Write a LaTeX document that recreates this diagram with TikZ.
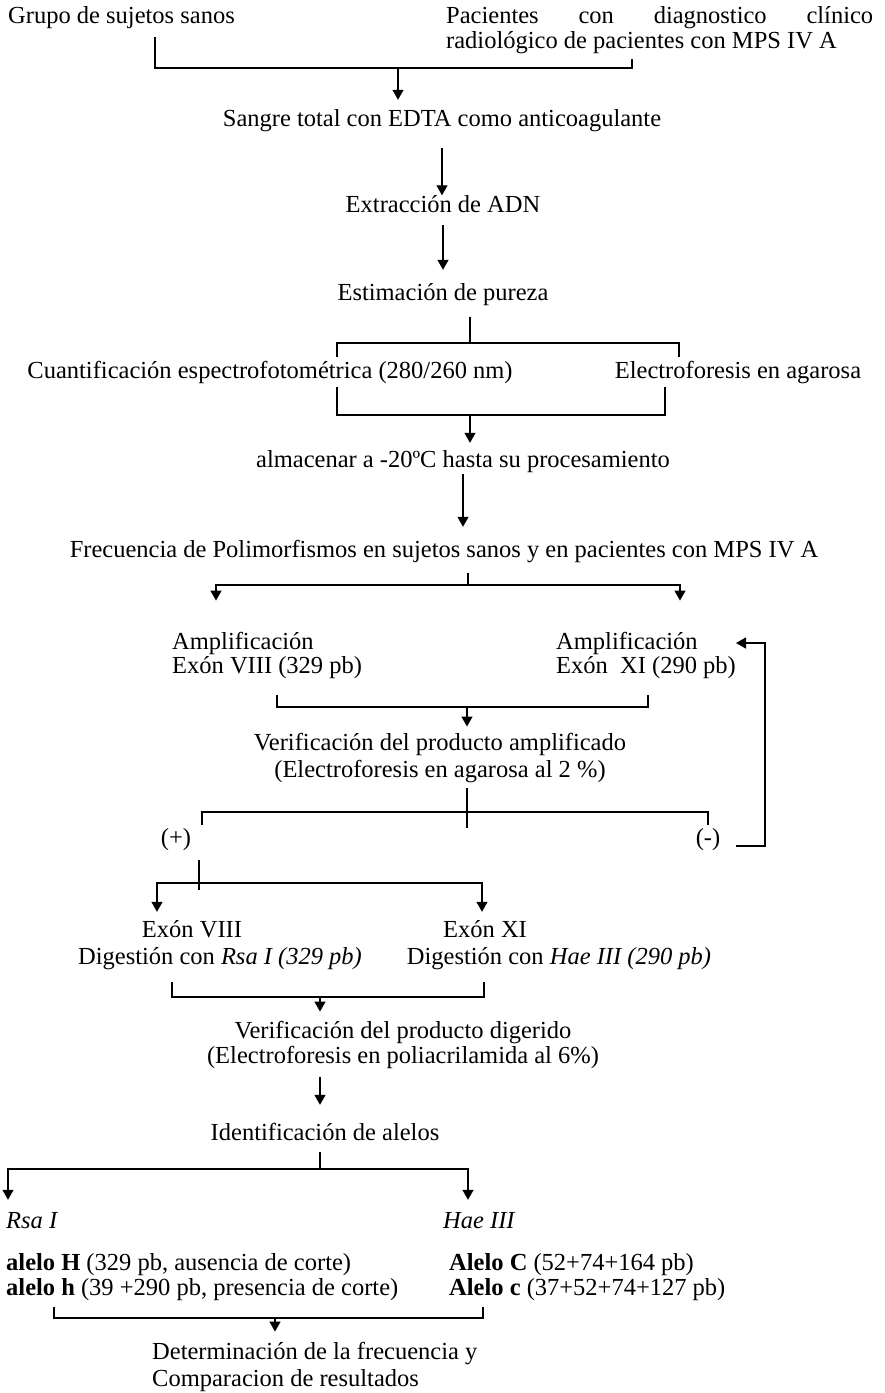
\documentclass[tikz,border=0pt]{standalone}
\usepackage{fontspec}
\setmainfont{Liberation Serif}
\usetikzlibrary{arrows.meta}

\begin{document}
\begin{tikzpicture}[x=1pt,y=-1pt,
    font=\fontsize{24.5}{26}\selectfont,
    txt/.style={inner sep=0pt,text height=17pt,text depth=6pt},
    blk/.style={inner sep=0pt,align=#1},
    blk/.default=left,
    link/.style={line width=1.3pt},
    flow/.style={line width=1.3pt,-{Triangle[width=11pt,length=10pt]}},
    branch/.style={line width=1.3pt,{Triangle[width=11pt,length=10pt]}-{Triangle[width=11pt,length=10pt]}}]
    \useasboundingbox (0,0) rectangle (885,1393);
    % texts
    \node[txt,anchor=west] (grupo) at (8,18) {Grupo de sujetos sanos};
    \node[blk,anchor=west] (pac) at (446,30.5) {\makebox[427pt][s]{Pacientes con diagnostico clínico}\\[-1pt]radiológico de pacientes con MPS IV A};
    \node[txt] (sangre) at (442,121) {Sangre total con EDTA como anticoagulante};
    \node[txt] (extr) at (443,207) {Extracción de ADN};
    \node[txt] (estim) at (443,295) {Estimación de pureza};
    \node[txt] (cuant) at (270,373) {Cuantificación espectrofotométrica (280/260 nm)};
    \node[txt] (electro) at (738,373) {Electroforesis en agarosa};
    \node[txt] (almac) at (463,462) {almacenar a -20ºC hasta su procesamiento};
    \node[txt] (frec) at (444,552) {Frecuencia de Polimorfismos en sujetos sanos y en pacientes con MPS IV A};
    \node[blk,anchor=west] (amp8) at (172,655) {Amplificación\\[-2pt]Exón VIII (329 pb)};
    \node[blk,anchor=west] (amp11) at (556,655) {Amplificación\\[-2pt]Exón\ \ XI (290 pb)};
    \node[blk=center] (verifa) at (440,758.5) {Verificación del producto amplificado\\[1pt](Electroforesis en agarosa al 2 \%)};
    \node[txt] (pos) at (176,840) {(+)};
    \node[txt] (neg) at (708,840) {(-)};
    \node[txt] (ex8) at (192,932) {Exón VIII};
    \node[txt] (dig8) at (220,959) {Digestión con \textit{Rsa I (329 pb)}};
    \node[txt] (ex11) at (485,932) {Exón XI};
    \node[txt] (dig11) at (559,959) {Digestión con \textit{Hae III (290 pb)}};
    \node[blk=center] (verifd) at (403,1044.5) {Verificación del producto digerido\\[-1pt](Electroforesis en poliacrilamida al 6\%)};
    \node[txt] (ident) at (325,1135) {Identificación de alelos};
    \node[txt,anchor=west] (rsa) at (6,1223) {\textit{Rsa I}};
    \node[txt,anchor=west] (hae) at (443,1223) {\textit{Hae III}};
    \node[blk,anchor=west] (alh) at (6,1277.5) {\textbf{alelo H} (329 pb, ausencia de corte)\\[-1pt]\textbf{alelo h} (39 +290 pb, presencia de corte)};
    \node[blk,anchor=west] (alc) at (449,1277.5) {\textbf{Alelo C} (52+74+164 pb)\\[-1pt]\textbf{Alelo c} (37+52+74+127 pb)};
    \node[blk,anchor=west] (det) at (152,1366.5) {Determinación de la frecuencia y\\[1pt]Comparacion de resultados};
    % junctions
    \coordinate (tl) at (155,68);  \coordinate (tr) at (632,68);  \coordinate (tm) at (398,68);
    \coordinate (ql) at (337,343); \coordinate (qr) at (679,343); \coordinate (q) at (470,343);
    \coordinate (pl) at (337,415); \coordinate (pr) at (665,415); \coordinate (p) at (470,415);
    \coordinate (fl) at (216,585); \coordinate (fr) at (680,585); \coordinate (f) at (468,585);
    \coordinate (al) at (277,707); \coordinate (ar) at (648,707); \coordinate (am) at (467,707);
    \coordinate (vl) at (202,812); \coordinate (vr) at (708,812); \coordinate (vm) at (467,828);
    \coordinate (fb0) at (736,846); \coordinate (fb) at (765,643); \coordinate (fbt) at (736,643);
    \coordinate (sl) at (157,883); \coordinate (sr) at (482,883); \coordinate (sm) at (199,890);
    \coordinate (dl) at (172,997); \coordinate (dr) at (484,997); \coordinate (dm) at (320,997);
    \coordinate (il) at (8,1169);  \coordinate (ir) at (468,1169); \coordinate (im) at (320,1169);
    \coordinate (hl) at (54,1318); \coordinate (hr) at (483,1318); \coordinate (hm) at (275,1318);
    % connectors
    \draw[link,shorten <=7.5pt,shorten >=5pt] (grupo.south -| tl) -- (tl) -- (tr) -- (pac.south -| tr);
    \draw[flow,shorten >=9.5pt] (tm) -- (tm |- sangre.north);
    \draw[flow,shorten <=15.5pt] (sangre.south) -- (sangre.south |- extr.north);
    \draw[flow,shorten <=6.5pt,shorten >=13.5pt] (extr.south) -- (extr.south |- estim.north);
    \draw[link,shorten <=10.5pt] (estim.south -| q) -- (q);
    \draw[link,shorten <=4.5pt,shorten >=4.5pt] (ql |- cuant.north) -- (ql) -- (qr) -- (qr |- electro.north);
    \draw[link,shorten <=2.5pt,shorten >=2.5pt] (pl |- cuant.south) -- (pl) -- (pr) -- (pr |- electro.south);
    \draw[flow,shorten >=7.5pt] (p) -- (p |- almac.north);
    \draw[flow,shorten >=13.5pt] (almac.south) -- (almac.south |- frec.north);
    \draw[link,shorten <=9.5pt] (frec.south -| f) -- (f);
    \draw[branch,shorten <=31pt,shorten >=31pt] (fl |- amp8.north) -- (fl) -- (fr) -- (fr |- amp11.north);
    \draw[link,shorten <=17pt,shorten >=17pt] (al |- amp8.south) -- (al) -- (ar) -- (ar |- amp11.south);
    \draw[flow,shorten >=7pt] (am) -- (am |- verifa.north);
    \draw[flow] (fb0) -| (fb) -- (fbt);
    \draw[link,shorten <=5pt] (verifa.south -| vm) -- (vm);
    \draw[link,shorten <=3.5pt,shorten >=3.5pt] (vl |- pos.north) -- (vl) -- (vr) -- (vr |- neg.north);
    \draw[link,shorten <=8.5pt] (pos.south -| sm) -- (sm);
    \draw[branch,shorten <=8.5pt,shorten >=8.5pt] (sl |- ex8.north) -- (sl) -- (sr) -- (sr |- ex11.north);
    \draw[link,shorten <=11.5pt,shorten >=11.5pt] (dl |- dig8.south) -- (dl) -- (dr) -- (dr |- dig11.south);
    \draw[flow,shorten >=9pt] (dm) -- (dm |- verifd.north);
    \draw[flow,shorten <=9pt,shorten >=18.5pt] (verifd.south -| dm) -- (dm |- ident.north);
    \draw[link,shorten <=5.5pt] (ident.south -| im) -- (im);
    \draw[branch,shorten <=11.5pt,shorten >=11.5pt] (il |- rsa.north) -- (il) -- (ir) -- (ir |- hae.north);
    \draw[link,shorten <=6pt,shorten >=6pt] (hl |- alh.south) -- (hl) -- (hr) -- (hr |- alc.south);
    \draw[flow,shorten >=10pt] (hm) -- (hm |- det.north);
\end{tikzpicture}
\end{document}
